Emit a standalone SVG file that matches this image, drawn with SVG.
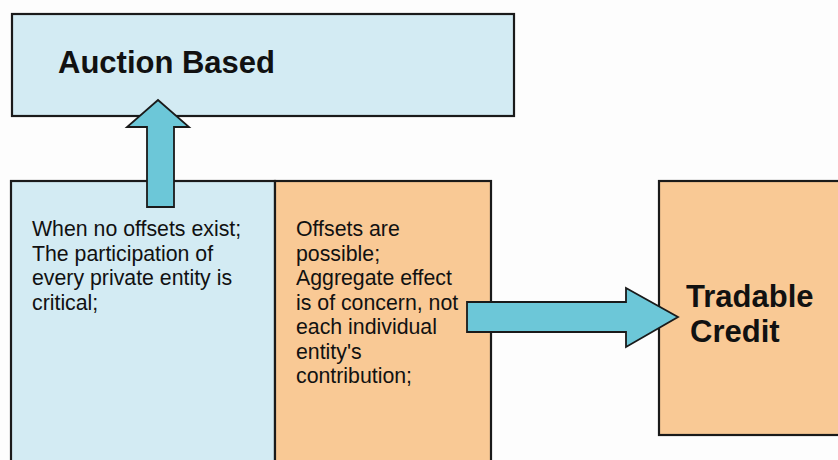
<svg xmlns="http://www.w3.org/2000/svg" width="838" height="460" viewBox="0 0 838 460">
<style>
.box{stroke:#1a1a1a;stroke-width:2.2}
.blue{fill:#d3ebf3}
.orange{fill:#f9c995}
.arrow{fill:#6cc7d8;stroke:#1a1a1a;stroke-width:1.8;stroke-linejoin:miter}
.t{font-family:"Liberation Sans",Arial,sans-serif;font-size:21.3px;fill:#111}
.b{font-family:"Liberation Sans",Arial,sans-serif;font-weight:bold;fill:#111}
</style>
<rect width="838" height="460" fill="#fdfdfd"/>
<g id="auction">
<rect class="box blue" x="12" y="14" width="502" height="102"/>
<text class="b" x="58" y="73" font-size="31">Auction Based</text>
</g>
<g id="no-offsets">
<rect class="box blue" x="11" y="181" width="264" height="290"/>
<text class="t" x="32" y="236">When no offsets exist;</text>
<text class="t" x="32" y="260.5">The participation of</text>
<text class="t" x="32" y="285">every private entity is</text>
<text class="t" x="32" y="309.5">critical;</text>
</g>
<g id="offsets">
<rect class="box orange" x="275" y="181" width="216" height="290"/>
<text class="t" x="296" y="236">Offsets are</text>
<text class="t" x="296" y="260.5">possible;</text>
<text class="t" x="296" y="285">Aggregate effect</text>
<text class="t" x="296" y="309.5">is of concern, not</text>
<text class="t" x="296" y="334">each individual</text>
<text class="t" x="296" y="358.5">entity's</text>
<text class="t" x="296" y="383">contribution;</text>
</g>
<g id="tradable">
<rect class="box orange" x="659" y="181" width="190" height="254"/>
<text class="b" x="686" y="307" font-size="31">Tradable</text>
<text class="b" x="690" y="342" font-size="31">Credit</text>
</g>
<g id="connectors">
<path class="arrow" d="M147,207 L147,127 L127,127 L158,100 L189,127 L174,127 L174,207 Z"/>
<path class="arrow" d="M467,302 L626,302 L626,288 L678,317 L626,347 L626,332 L467,332 Z"/>
</g>
</svg>
